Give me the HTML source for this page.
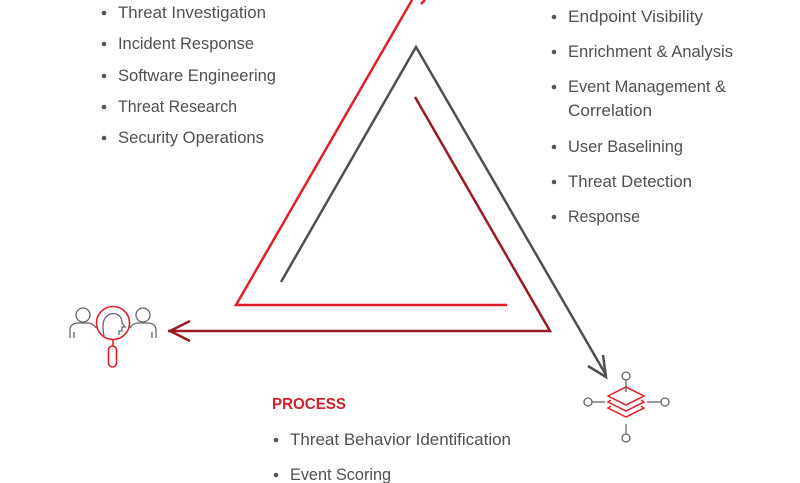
<!DOCTYPE html>
<html><head><meta charset="utf-8"><style>
html,body{margin:0;padding:0;background:#fff;}
svg{display:block;}
text{font-family:"Liberation Sans",sans-serif;font-size:17px;fill:#505050;}
.b{fill:#555;}
</style></head><body>
<svg width="800" height="483" viewBox="0 0 800 483" xmlns="http://www.w3.org/2000/svg">
<polyline points="412,0 236,305 507,305" fill="none" stroke="#e31e2a" stroke-width="2.5"/>
<line x1="425" y1="0" x2="421" y2="4" stroke="#e31e2a" stroke-width="2.5"/>
<polyline points="281,282 416,47 606,375" fill="none" stroke="#505050" stroke-width="2.5"/>
<polyline points="588,366 606,377 603,355" fill="none" stroke="#505050" stroke-width="2.5"/>
<polyline points="415,97 550,331 168,331" fill="none" stroke="#9b1b22" stroke-width="2.5"/>
<polyline points="190,321 170,331 190,341" fill="none" stroke="#9b1b22" stroke-width="2.5"/>

<g>
<circle class="b" cx="104" cy="13" r="2.3"/><text x="118" y="18" textLength="148" lengthAdjust="spacingAndGlyphs">Threat Investigation</text>
<circle class="b" cx="104" cy="44" r="2.3"/><text x="118" y="49" textLength="136" lengthAdjust="spacingAndGlyphs">Incident Response</text>
<circle class="b" cx="104" cy="76" r="2.3"/><text x="118" y="81" textLength="158" lengthAdjust="spacingAndGlyphs">Software Engineering</text>
<circle class="b" cx="104" cy="107" r="2.3"/><text x="118" y="112" textLength="119" lengthAdjust="spacingAndGlyphs">Threat Research</text>
<circle class="b" cx="104" cy="138" r="2.3"/><text x="118" y="143" textLength="146" lengthAdjust="spacingAndGlyphs">Security Operations</text>
</g>
<g>
<circle class="b" cx="554" cy="17" r="2.3"/><text x="568" y="22" textLength="135" lengthAdjust="spacingAndGlyphs">Endpoint Visibility</text>
<circle class="b" cx="554" cy="52" r="2.3"/><text x="568" y="57" textLength="165" lengthAdjust="spacingAndGlyphs">Enrichment &amp; Analysis</text>
<circle class="b" cx="554" cy="87" r="2.3"/><text x="568" y="92" textLength="158" lengthAdjust="spacingAndGlyphs">Event Management &amp;</text>
<text x="568" y="116" textLength="84" lengthAdjust="spacingAndGlyphs">Correlation</text>
<circle class="b" cx="554" cy="147" r="2.3"/><text x="568" y="152" textLength="115" lengthAdjust="spacingAndGlyphs">User Baselining</text>
<circle class="b" cx="554" cy="182" r="2.3"/><text x="568" y="187" textLength="124" lengthAdjust="spacingAndGlyphs">Threat Detection</text>
<circle class="b" cx="554" cy="217" r="2.3"/><text x="568" y="222" textLength="72" lengthAdjust="spacingAndGlyphs">Response</text>
</g>
<text x="272" y="409" textLength="74" lengthAdjust="spacingAndGlyphs" style="fill:#d0202a;font-weight:bold;font-size:16px">PROCESS</text>
<circle class="b" cx="276" cy="440" r="2.3"/><text x="290" y="445" textLength="221" lengthAdjust="spacingAndGlyphs">Threat Behavior Identification</text>
<circle class="b" cx="276" cy="475" r="2.3"/><text x="290" y="480" textLength="101" lengthAdjust="spacingAndGlyphs">Event Scoring</text>

<g fill="none" stroke="#666" stroke-width="1.3">
<circle cx="83" cy="315" r="7"/>
<path d="M70,338 v-8 q0,-6 7,-7 h12 q5,1 7,5"/>
<line x1="74" y1="332" x2="74" y2="338"/>
<circle cx="143" cy="315" r="7"/>
<path d="M156,338 v-8 q0,-6 -7,-7 h-12 q-5,1 -7,5"/>
<line x1="152" y1="332" x2="152" y2="338"/>
<path d="M104,336 q-2,-10 0,-16 q4,-8 12,-6 q6,2 6,9 l3,4 h-3 v4 h-3 v4"/>
</g>
<g fill="none" stroke="#e31e2a" stroke-width="1.6">
<circle cx="113" cy="323" r="16.5"/>
<rect x="108.5" y="346" width="8" height="21" rx="4"/>
<line x1="113" y1="340" x2="113" y2="346"/>
</g>

<g fill="none" stroke="#666" stroke-width="1.3">
<circle cx="626" cy="376" r="4"/><line x1="626" y1="380" x2="626" y2="392"/>
<circle cx="626" cy="438" r="4"/><line x1="626" y1="424" x2="626" y2="434"/>
<circle cx="588" cy="402" r="4"/><line x1="592" y1="402" x2="605" y2="402"/>
<circle cx="665" cy="402" r="4"/><line x1="647" y1="402" x2="661" y2="402"/>
</g>
<g fill="none" stroke="#e31e2a" stroke-width="1.5">
<path d="M608,396 l18,-9 l18,9 l-18,9 z"/>
<path d="M611,400 l-3,2 l18,9 l18,-9 l-3,-2"/>
<path d="M611,406 l-3,2 l18,9 l18,-9 l-3,-2"/>
</g>
</svg>
</body></html>
